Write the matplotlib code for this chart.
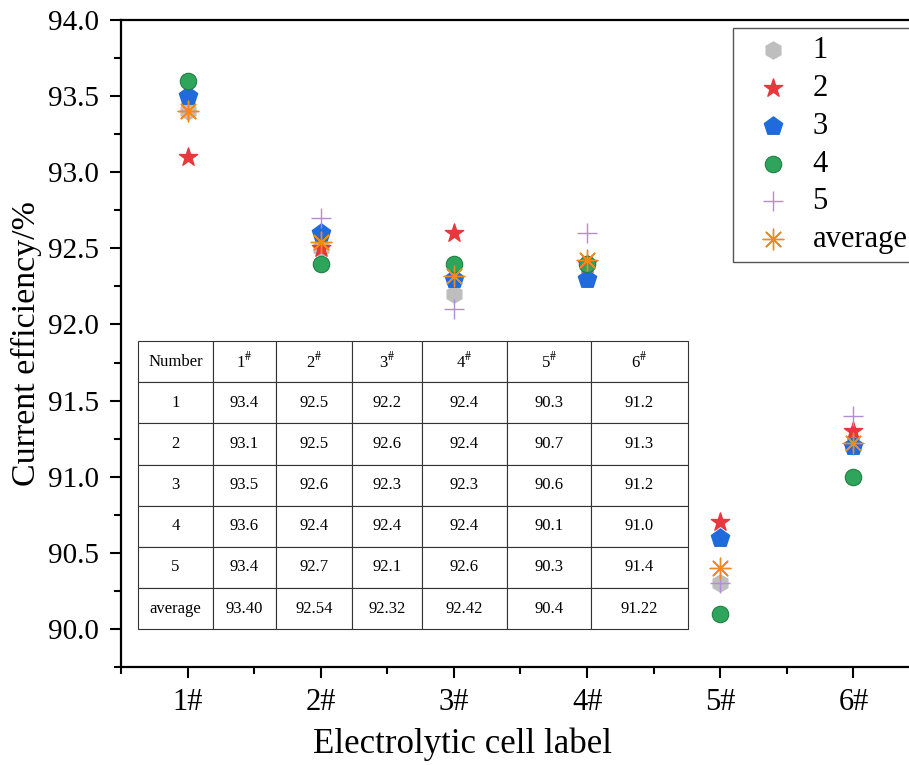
import matplotlib.pyplot as plt
from matplotlib.ticker import MultipleLocator

# cell labels and measured current efficiency (%)
cells = ['1#', '2#', '3#', '4#', '5#', '6#']
s1 = [93.4, 92.5, 92.2, 92.4, 90.3, 91.2]
s2 = [93.1, 92.5, 92.6, 92.4, 90.7, 91.3]
s3 = [93.5, 92.6, 92.3, 92.3, 90.6, 91.2]
s4 = [93.6, 92.4, 92.4, 92.4, 90.1, 91.0]
s5 = [93.4, 92.7, 92.1, 92.6, 90.3, 91.4]
avg = [93.40, 92.54, 92.32, 92.42, 90.4, 91.22]
avg_text = ['93.40', '92.54', '92.32', '92.42', '90.4', '91.22']

plt.rcParams['font.family'] = ['Liberation Serif', 'DejaVu Serif']
plt.rcParams['mathtext.fontset'] = 'stix'

fig = plt.figure(figsize=(9.09, 7.65), dpi=100)
ax = fig.add_axes([0.1331, 0.128, 0.879, 0.846])

x = list(range(1, len(cells) + 1))
ax.scatter(x, s1, marker='h', s=150, color='#BEBEBE', label='1', zorder=3)
ax.scatter(x, s2, marker='*', s=190, color='#E8383D', label='2', zorder=3)
ax.scatter(x, s3, marker='p', s=190, color='#1F6BDB', label='3', zorder=3)
ax.scatter(x, s4, marker='o', s=140, color='#2EA55A', edgecolor='#1E8044',
           linewidth=0.8, label='4', zorder=3)
ax.scatter(x, s5, marker='+', s=200, color='#B48ADB', linewidth=1.0, label='5', zorder=3)
ax.scatter(x, avg, marker=(8, 2, 0), s=220, color='#F08A1C', linewidth=1.0,
           label='average', zorder=3)

ax.set_xlim(0.5, 6.5)
ax.set_ylim(89.75, 94.0)
ax.set_xticks(x)
ax.set_xticklabels(cells)
ax.xaxis.set_minor_locator(MultipleLocator(0.5))
ax.yaxis.set_major_locator(MultipleLocator(0.5))
ax.yaxis.set_minor_locator(MultipleLocator(0.25))
ax.yaxis.set_major_formatter(plt.FormatStrFormatter('%.1f'))
ax.tick_params(which='major', direction='out', length=8, width=1.5, labelsize=21, pad=8)
ax.tick_params(axis='x', which='major', labelsize=22, pad=7)
ax.tick_params(which='minor', direction='out', length=5, width=1.5)
for sp in ax.spines.values():
    sp.set_linewidth(1.6)

ax.set_xlabel('Electrolytic cell label', fontsize=25)
ax.xaxis.set_label_coords(0.427, -0.093)
ax.set_ylabel('Current efficiency/%', fontsize=24.5, labelpad=4)

leg = ax.legend(loc='upper left', bbox_to_anchor=(0.766, 0.987), fontsize=22,
                fancybox=False, edgecolor='#555555', framealpha=1,
                handletextpad=0.25, labelspacing=0.29, borderpad=0.25,
                handlelength=2.1, borderaxespad=0)
leg.get_frame().set_linewidth(1.0)

# embedded data table
header = ['Number'] + [f'{i}$^{{\\#}}$' for i in range(1, 7)]
rows = []
for name, vals in [('1', s1), ('2', s2), ('3', s3), ('4', s4), ('5', s5)]:
    rows.append([name] + [f'{v:.1f}' for v in vals])
rows.append(['average'] + avg_text)

widths = [75, 63, 76, 70, 85, 84, 97]
tot = sum(widths)
tbl = ax.table(cellText=rows, colLabels=header, cellLoc='center',
               colWidths=[w / tot for w in widths],
               bbox=[0.0213, 0.0587, 0.688, 0.445], zorder=2)
tbl.auto_set_font_size(False)
tbl.set_fontsize(12)
for cell in tbl.get_celld().values():
    cell.set_linewidth(0.8)
    cell.set_edgecolor('#333333')

fig.savefig('out.png', dpi=100)
